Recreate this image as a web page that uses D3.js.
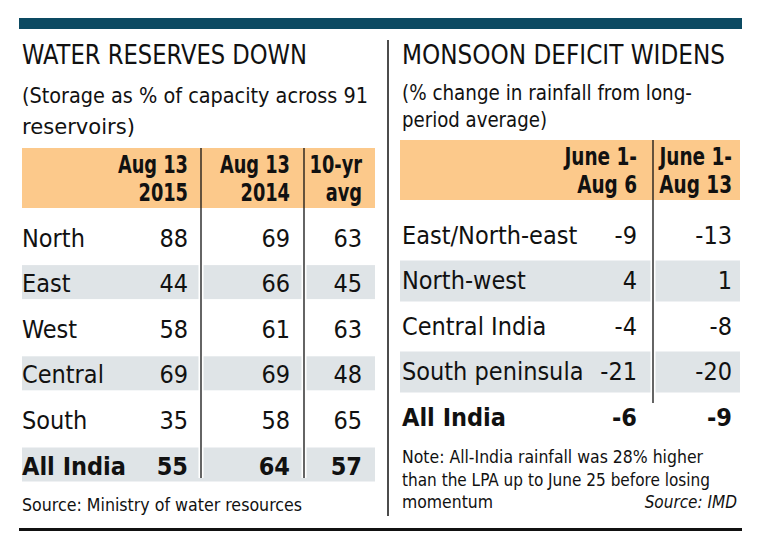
<!DOCTYPE html>
<html>
<head>
<meta charset="utf-8">
<script src="https://cdn.jsdelivr.net/npm/d3@7"></script>
<style>
  html, body { margin: 0; padding: 0; background: #fff; }
  svg { display: block; }
  text { font-family: "Liberation Sans Narrow", "DejaVu Sans Condensed", "Roboto", sans-serif; fill: #111; }
</style>
</head>
<body>
<svg id="chart" width="780" height="545"></svg>
<script>
// ---- Data ----
const waterTitle = "WATER RESERVES DOWN";
const waterSubtitle = ["(Storage as % of capacity across 91", "reservoirs)"];
const waterHeaders = [["Aug 13", "2015"], ["Aug 13", "2014"], ["10-yr", "avg"]];
const waterRegions = ["North", "East", "West", "Central", "South", "All India"];
const water2015 = [88, 44, 58, 69, 35, 55];
const water2014 = [69, 66, 61, 69, 58, 64];
const water10yr = [63, 45, 63, 48, 65, 57];
const waterSource = "Source: Ministry of water resources";

const rainTitle = "MONSOON DEFICIT WIDENS";
const rainSubtitle = ["(% change in rainfall from long-", "period average)"];
const rainHeaders = [["June 1-", "Aug 6"], ["June 1-", "Aug 13"]];
const rainRegions = ["East/North-east", "North-west", "Central India", "South peninsula", "All India"];
const rainAug6 = [-9, 4, -4, -21, -6];
const rainAug13 = [-13, 1, -8, -20, -9];
const rainNote = ["Note: All-India rainfall was 28% higher", "than the LPA up to June 25 before losing", "momentum"];
const rainSource = "Source: IMD";

// ---- Drawing ----
const svg = d3.select("#chart");
const ORANGE = "#fcc98b", GRAY = "#dfe4e7", TEAL = "#0c4a62";

function condense(sel, f) {
  sel.each(function () {
    const w = this.getComputedTextLength();
    d3.select(this).attr("textLength", w * f).attr("lengthAdjust", "spacingAndGlyphs");
  });
  return sel;
}

// top bar & bottom rule
svg.append("rect").attr("x", 19).attr("y", 18).attr("width", 723).attr("height", 11).attr("fill", TEAL);
svg.append("rect").attr("x", 19).attr("y", 528).attr("width", 723).attr("height", 3).attr("fill", "#111");
// divider
svg.append("line").attr("x1", 388).attr("x2", 388).attr("y1", 40).attr("y2", 516)
  .attr("stroke", "#111").attr("stroke-width", 1.5);

function table(cfg) {
  const g = svg.append("g");
  g.append("text").attr("x", cfg.x0).attr("y", 64).attr("font-size", 27)
    .attr("textLength", cfg.titleW).attr("lengthAdjust", "spacingAndGlyphs").text(cfg.title);
  cfg.subtitle.forEach((s, i) => {
    g.append("text").attr("x", cfg.x0).attr("y", cfg.subY[i]).attr("font-size", 21)
      .attr("textLength", cfg.subW[i]).attr("lengthAdjust", "spacingAndGlyphs").text(s);
  });
  // header band
  g.append("rect").attr("x", cfg.bandX0).attr("y", cfg.headY0).attr("width", cfg.bandX1 - cfg.bandX0)
    .attr("height", cfg.headY1 - cfg.headY0).attr("fill", ORANGE);
  const y = d3.scalePoint().domain(cfg.regions).range(cfg.rowRange);
  // row bands
  cfg.regions.forEach((r, i) => {
    if (cfg.shaded(i)) {
      g.append("rect").attr("x", cfg.bandX0).attr("y", y(r) - cfg.bandH / 2)
        .attr("width", cfg.bandX1 - cfg.bandX0).attr("height", cfg.bandH).attr("fill", GRAY);
    }
  });
  // vertical lines with white gap
  cfg.vlines.forEach(x => {
    g.append("rect").attr("x", x - 2.5).attr("y", cfg.headY1).attr("width", 5)
      .attr("height", cfg.vEnd - cfg.headY1).attr("fill", "#fff");
    g.append("line").attr("x1", x).attr("x2", x).attr("y1", cfg.headY0).attr("y2", cfg.vEnd)
      .attr("stroke", "#111").attr("stroke-width", 1.3);
  });
  // headers
  cfg.headers.forEach((h, c) => {
    h.forEach((line, k) => {
      const t = g.append("text").attr("x", cfg.colX[c]).attr("y", cfg.headBase[k]).attr("text-anchor", "end")
        .attr("font-size", 25).attr("font-weight", "bold").text(line);
      condense(t, cfg.headCond);
    });
  });
  // rows
  cfg.regions.forEach((r, i) => {
    const bold = r === "All India";
    g.append("text").attr("x", cfg.x0).attr("y", y(r) + cfg.baseOff).attr("font-size", 25)
      .attr("font-weight", bold ? "bold" : "normal").text(r);
    cfg.series.forEach((s, c) => {
      g.append("text").attr("x", cfg.colX[c]).attr("y", y(r) + cfg.baseOff).attr("text-anchor", "end")
        .attr("font-size", 25).attr("font-weight", bold ? "bold" : "normal").text(s[i]);
    });
  });
  return g;
}

table({
  x0: 22, title: waterTitle, titleW: 285, subtitle: waterSubtitle, subY: [103, 134], subW: [346, 113],
  bandX0: 22, bandX1: 375, headY0: 148, headY1: 208, headBase: [173, 201], headCond: 0.79,
  regions: waterRegions, rowRange: [236.5, 464.5], bandH: 34, shaded: i => i % 2 === 1,
  vlines: [201, 304], vEnd: 478, headers: waterHeaders, colX: [188, 290, 362],
  series: [water2015, water2014, water10yr], baseOff: 10
});
svg.append("text").attr("x", 22).attr("y", 511).attr("font-size", 18)
  .attr("textLength", 280).attr("lengthAdjust", "spacingAndGlyphs").text(waterSource);

table({
  x0: 402, title: rainTitle, titleW: 323, subtitle: rainSubtitle, subY: [100, 127], subW: [290, 145],
  bandX0: 400, bandX1: 740, headY0: 140, headY1: 200, headBase: [165, 193], headCond: 0.82,
  regions: rainRegions, rowRange: [235.5, 417.5], bandH: 41, shaded: i => i % 2 === 1,
  vlines: [653], vEnd: 403, headers: rainHeaders, colX: [637, 732],
  series: [rainAug6, rainAug13], baseOff: 8
});
const noteW = [301, 308, 91];
rainNote.forEach((s, i) => {
  svg.append("text").attr("x", 402).attr("y", [463, 486, 508][i]).attr("font-size", 17)
    .attr("textLength", noteW[i]).attr("lengthAdjust", "spacingAndGlyphs").text(s);
});
svg.append("text").attr("x", 737).attr("y", 508).attr("text-anchor", "end").attr("font-size", 17)
  .attr("font-style", "italic").text(rainSource);
</script>
</body>
</html>
